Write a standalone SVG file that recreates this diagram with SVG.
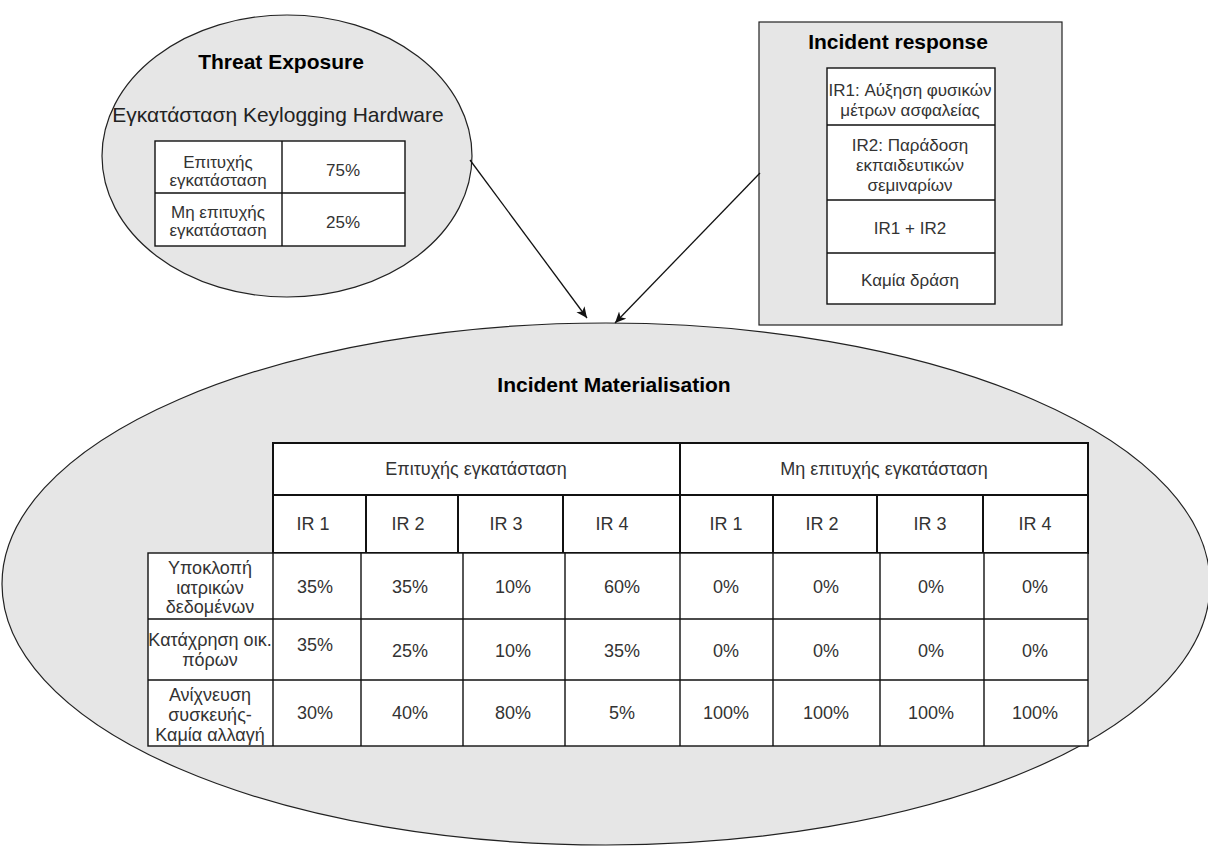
<svg xmlns="http://www.w3.org/2000/svg" width="1208" height="846" viewBox="0 0 1208 846">
  <style>
    .shape { fill: #e6e6e6; stroke: #222; stroke-width: 1.2; }
    .cell { fill: #fff; stroke: #111; stroke-width: 1.4; }
    .cellb { fill: #fff; stroke: #111; stroke-width: 2; }
    .h { font-family: "Liberation Sans", Arial, sans-serif; font-weight: bold; font-size: 21px; fill: #000; text-anchor: middle; }
    .sub { font-family: "Liberation Sans", Arial, sans-serif; font-size: 21px; fill: #222; text-anchor: middle; }
    .t { font-family: "Liberation Sans", Arial, sans-serif; font-size: 18px; fill: #333; text-anchor: middle; }
    .s { font-family: "Liberation Sans", Arial, sans-serif; font-size: 17px; fill: #333; text-anchor: middle; }
    .edge { stroke: #111; stroke-width: 1.3; fill: none; marker-end: url(#arrow); }
  </style>
  <defs>
    <marker id="arrow" markerUnits="userSpaceOnUse" markerWidth="14" markerHeight="12" refX="11" refY="5" orient="auto">
      <path d="M0,0 L11,5 L0,10 L3,5 Z" fill="#111"/>
    </marker>
  </defs>

  <rect width="1208" height="846" fill="#fff"/>

  <!-- Incident Materialisation -->
  <g id="incident-materialisation">
    <ellipse class="shape" cx="606" cy="584" rx="604" ry="261"/>
    <text class="h" x="614" y="392">Incident Materialisation</text>
    <!-- header: outcome groups -->
    <rect class="cellb" x="273" y="443" width="407" height="52"/>
    <rect class="cellb" x="680" y="443" width="408" height="52"/>
    <text class="t" x="476" y="475">Επιτυχής εγκατάσταση</text>
    <text class="t" x="884" y="475">Μη επιτυχής εγκατάσταση</text>
    <!-- header: responses -->
    <rect class="cellb" x="273" y="495" width="93" height="58"/>
    <rect class="cellb" x="366" y="495" width="92" height="58"/>
    <rect class="cellb" x="458" y="495" width="105" height="58"/>
    <rect class="cellb" x="563" y="495" width="117" height="58"/>
    <rect class="cellb" x="680" y="495" width="93" height="58"/>
    <rect class="cellb" x="773" y="495" width="104" height="58"/>
    <rect class="cellb" x="877" y="495" width="106" height="58"/>
    <rect class="cellb" x="983" y="495" width="105" height="58"/>
    <text class="t" x="313" y="530">IR 1</text>
    <text class="t" x="408" y="530">IR 2</text>
    <text class="t" x="506" y="530">IR 3</text>
    <text class="t" x="612" y="530">IR 4</text>
    <text class="t" x="726" y="530">IR 1</text>
    <text class="t" x="822" y="530">IR 2</text>
    <text class="t" x="930" y="530">IR 3</text>
    <text class="t" x="1035" y="530">IR 4</text>
    <!-- data grid -->
    <g>
      <rect class="cell" x="148" y="553" width="940" height="193"/>
      <path d="M148,619 H1088 M148,680 H1088 M273,553 V746 M361,553 V746 M463,553 V746 M565,553 V746 M680,553 V746 M773,553 V746 M880,553 V746 M984,553 V746" stroke="#111" stroke-width="1.4" fill="none"/>
    </g>
    <text class="t" x="210" y="574">Υποκλοπή<tspan x="210" dy="20">ιατρικών</tspan><tspan x="210" dy="19">δεδομένων</tspan></text>
    <text class="t" x="210" y="646">Κατάχρηση οικ.<tspan x="210" dy="20">πόρων</tspan></text>
    <text class="t" x="210" y="701">Ανίχνευση<tspan x="210" dy="20">συσκευής-</tspan><tspan x="210" dy="20">Καμία αλλαγή</tspan></text>

    <text class="t" x="315" y="593">35%</text>
    <text class="t" x="410" y="593">35%</text>
    <text class="t" x="513" y="593">10%</text>
    <text class="t" x="622" y="593">60%</text>
    <text class="t" x="726" y="593">0%</text>
    <text class="t" x="826" y="593">0%</text>
    <text class="t" x="931" y="593">0%</text>
    <text class="t" x="1035" y="593">0%</text>

    <text class="t" x="315" y="651">35%</text>
    <text class="t" x="410" y="657">25%</text>
    <text class="t" x="513" y="657">10%</text>
    <text class="t" x="622" y="657">35%</text>
    <text class="t" x="726" y="657">0%</text>
    <text class="t" x="826" y="657">0%</text>
    <text class="t" x="931" y="657">0%</text>
    <text class="t" x="1035" y="657">0%</text>

    <text class="t" x="315" y="719">30%</text>
    <text class="t" x="410" y="719">40%</text>
    <text class="t" x="513" y="719">80%</text>
    <text class="t" x="622" y="719">5%</text>
    <text class="t" x="726" y="719">100%</text>
    <text class="t" x="826" y="719">100%</text>
    <text class="t" x="931" y="719">100%</text>
    <text class="t" x="1035" y="719">100%</text>
  </g>

  <!-- Threat Exposure -->
  <g id="threat-exposure">
    <ellipse class="shape" cx="287" cy="156" rx="185" ry="141"/>
    <text class="h" x="281" y="69">Threat Exposure</text>
    <text class="sub" x="278" y="122">Εγκατάσταση Keylogging Hardware</text>
    <rect class="cell" x="155" y="141" width="250" height="105"/>
    <path d="M155,193 H405 M282,141 V246" stroke="#111" stroke-width="1.4" fill="none"/>
    <text class="s" x="218" y="168">Επιτυχής<tspan x="218" dy="18">εγκατάσταση</tspan></text>
    <text class="s" x="343" y="176">75%</text>
    <text class="s" x="218" y="218">Μη επιτυχής<tspan x="218" dy="18">εγκατάσταση</tspan></text>
    <text class="s" x="343" y="228">25%</text>
  </g>

  <!-- Incident response -->
  <g id="incident-response">
    <rect class="shape" x="759" y="22" width="303" height="303"/>
    <text class="h" x="898" y="49">Incident response</text>
    <rect class="cell" x="827" y="68" width="168" height="236"/>
    <path d="M827,125 H995 M827,200 H995 M827,253 H995" stroke="#111" stroke-width="1.4" fill="none"/>
    <text class="s" x="910" y="96">IR1: Αύξηση φυσικών<tspan x="910" dy="20">μέτρων ασφαλείας</tspan></text>
    <text class="s" x="910" y="151">IR2: Παράδοση<tspan x="910" dy="20">εκπαιδευτικών</tspan><tspan x="910" dy="20">σεμιναρίων</tspan></text>
    <text class="s" x="910" y="234">IR1 + IR2</text>
    <text class="s" x="910" y="286">Καμία δράση</text>
  </g>

  <!-- connectors -->
  <g id="connectors">
    <line class="edge" x1="470" y1="160" x2="587" y2="318"/>
    <line class="edge" x1="760" y1="173" x2="615" y2="323"/>
  </g>
</svg>
